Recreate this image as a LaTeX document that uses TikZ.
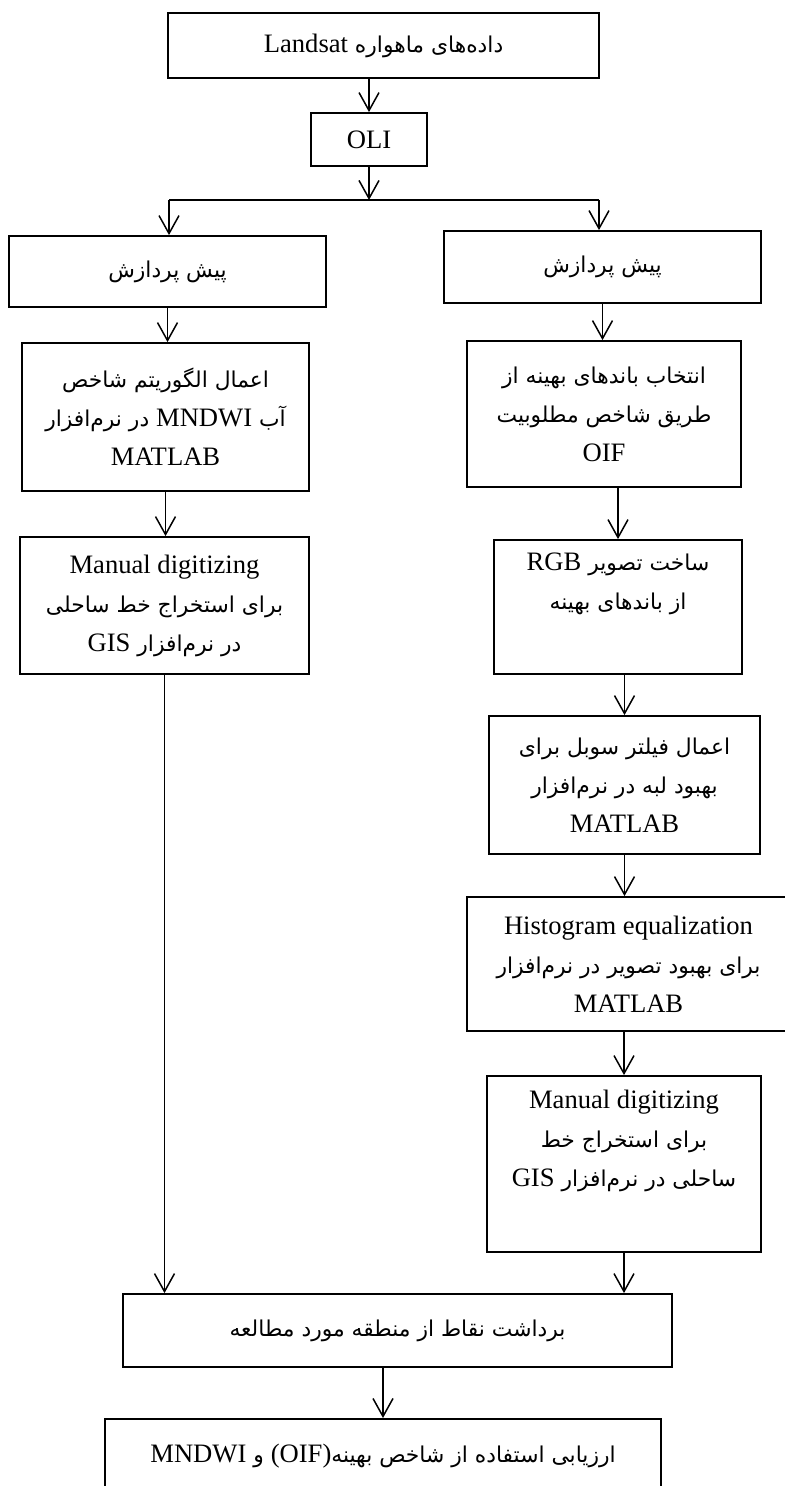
\documentclass[tikz,border=0pt]{standalone}
\usepackage{fontspec}
\setmainfont{Liberation Serif}
\newfontfamily\farsi[Script=Arabic,Scale=0.82]{DejaVu Sans}
\TeXXeTstate=1
\usepackage{tikz}
\usetikzlibrary{arrows.meta}
\newcommand\fa[1]{{\farsi\beginR #1\endR}}
\newcommand\lat[1]{{\beginL\rmfamily #1\endL}}
\tikzset{
  blk/.style={draw, line width=0.9pt, align=center, inner sep=0pt},
  arr/.style={line width=0.75pt, -{Straight Barb[length=9pt,width=10pt]}},
}
\begin{document}
\begin{tikzpicture}[x=0.5pt,y=-0.5pt,node font=\fontsize{13.3pt}{19.5pt}\selectfont]
\useasboundingbox (0,0) rectangle (785,1486);
\node[blk, minimum width=215.5pt, minimum height=32.5pt] (sat) at (383.5,45.5) {\fa{داده^^^^200cهای ماهواره \lat{Landsat}}};
\node[blk, minimum width=58pt, minimum height=26.5pt] (oli) at (369,139.5) {OLI};
\node[blk, minimum width=158.5pt, minimum height=35.5pt] (preL) at (167.5,271.5) {\fa{پیش پردازش}};
\node[blk, minimum width=158.5pt, minimum height=36pt] (preR) at (602.5,267) {\fa{پیش پردازش}};
\node[blk, minimum width=143.5pt, minimum height=74pt] (mndwi) at (165.5,417)
  {\fa{اعمال الگوریتم شاخص}\\ \fa{آب \lat{MNDWI} در نرم^^^^200cافزار}\\ MATLAB};
\node[blk, minimum width=144.5pt, minimum height=68.5pt] (digL) at (164.5,605.5)
  {Manual digitizing\\ \fa{برای استخراج خط ساحلی}\\ \fa{در نرم^^^^200cافزار \lat{GIS}}};
\node[blk, minimum width=137pt, minimum height=73pt] (oif) at (604,414)
  {\fa{انتخاب باندهای بهینه از}\\ \fa{طریق شاخص مطلوبیت}\\ OIF};
\node[blk, minimum width=124pt, minimum height=67pt] (rgb) at (618,607)
  {\fa{ساخت تصویر \lat{RGB}}\\ \fa{از باندهای بهینه}\\ \strut};
\node[blk, minimum width=135.5pt, minimum height=69pt] (sobel) at (624.5,785)
  {\fa{اعمال فیلتر سوبل برای}\\ \fa{بهبود لبه در نرم^^^^200cافزار}\\ MATLAB};
\node[blk, minimum width=161.5pt, minimum height=67pt] (hist) at (628.5,964)
  {Histogram equalization\\ \fa{برای بهبود تصویر در نرم^^^^200cافزار}\\ MATLAB};
\node[blk, minimum width=137pt, minimum height=88pt] (digR) at (624,1164)
  {Manual digitizing\\ \fa{برای استخراج خط}\\ \fa{ساحلی در نرم^^^^200cافزار \lat{GIS}}\\ \strut};
\node[blk, minimum width=274.5pt, minimum height=36.5pt] (pts) at (397.5,1330.5)
  {\fa{برداشت نقاط از منطقه مورد مطالعه}};
\node[blk, minimum width=278pt, minimum height=37pt, anchor=north] (eval) at (383,1418)
  {\fa{ارزیابی استفاده از شاخص بهینه\lat{(OIF)} و \lat{MNDWI}}};
\coordinate (splitL) at (169,200);
\coordinate (splitR) at (599,200);
\draw[arr] (sat.south -| oli.north) -- (oli.north);
\draw[arr] (oli.south) -- (oli.south |- splitL);
\draw[line width=0.75pt] (splitL) -- (splitR);
\draw[arr] (splitL) -- (splitL |- preL.north);
\draw[arr] (splitR) -- (splitR |- preR.north);
\draw[arr] (preL.south) -- (preL.south |- mndwi.north);
\draw[arr] (mndwi.south) -- (mndwi.south |- digL.north);
\draw[arr] (digL.south) -- (digL.south |- pts.north);
\draw[arr] (preR.south) -- (preR.south |- oif.north);
\draw[arr] (oif.south -| rgb.north) -- (rgb.north);
\draw[arr] (rgb.south -| sobel.north) -- (sobel.north);
\draw[arr] (sobel.south) -- (sobel.south |- hist.north);
\draw[arr] (hist.south -| digR.north) -- (digR.north);
\draw[arr] (digR.south) -- (digR.south |- pts.north);
\draw[arr] (pts.south -| eval.north) -- (eval.north);
\end{tikzpicture}
\end{document}
